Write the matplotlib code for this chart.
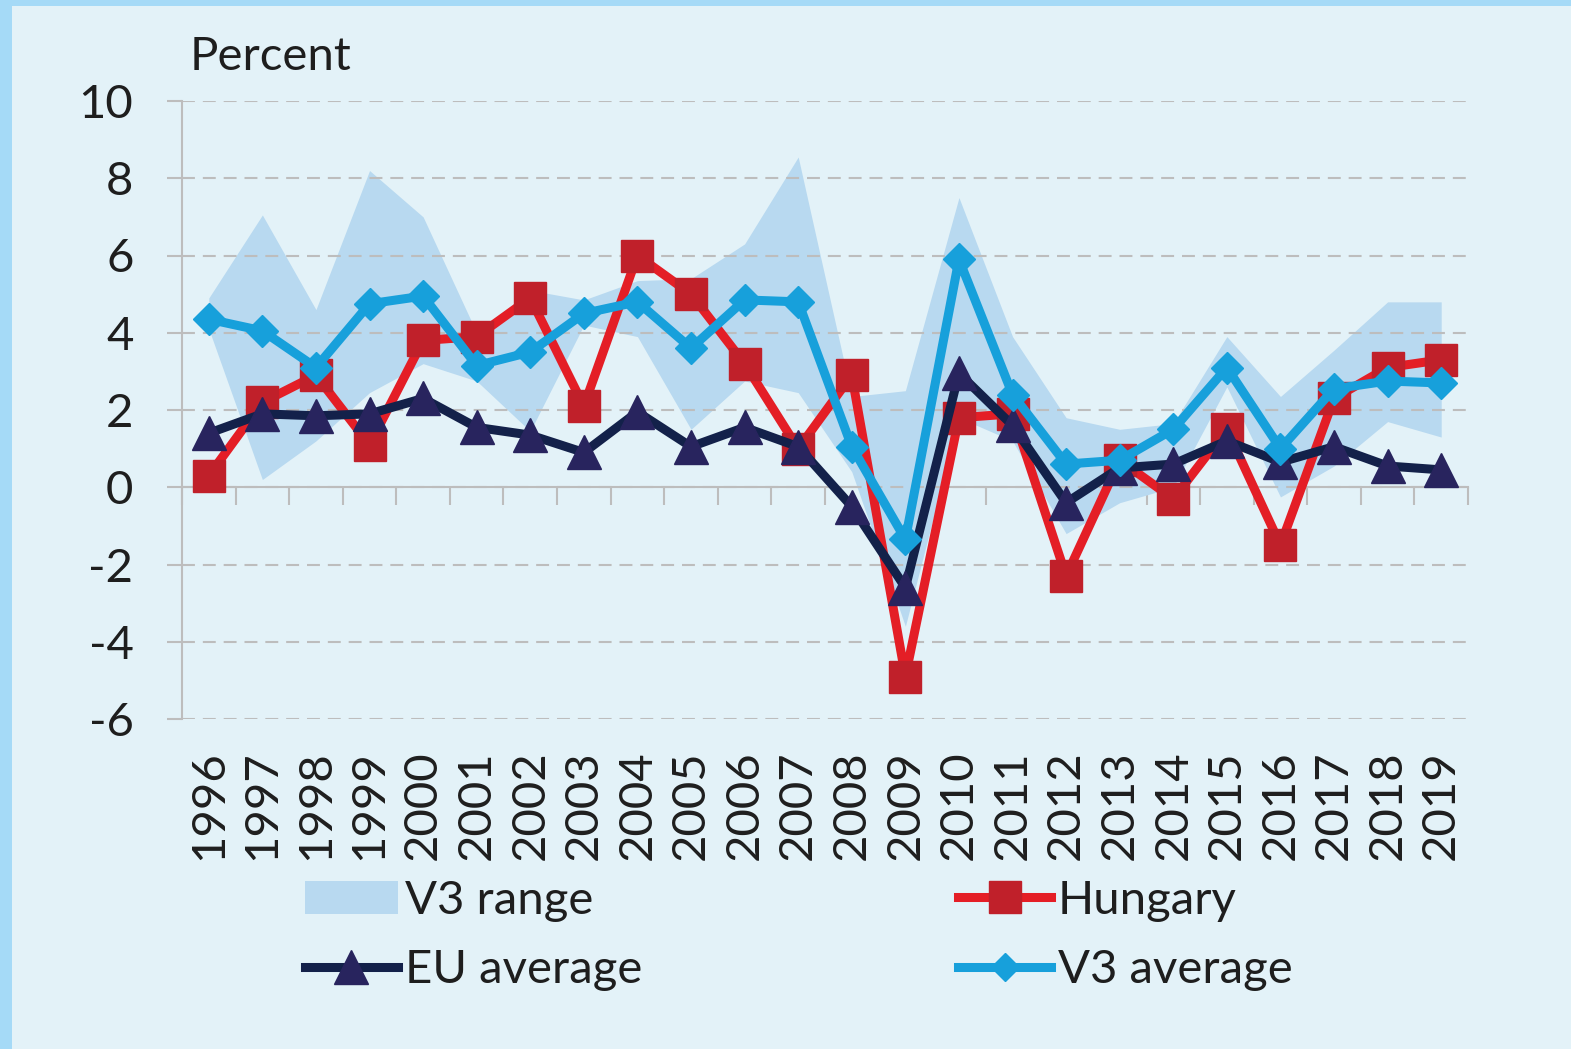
import matplotlib
matplotlib.use("Agg")
import matplotlib.pyplot as plt
from matplotlib.patches import Rectangle, Patch
from matplotlib.lines import Line2D
import numpy as np

years = [str(y) for y in range(1996, 2020)]
hungary = [0.3, 2.2, 2.9, 1.1, 3.8, 3.9, 4.9, 2.1, 6.0, 5.0, 3.2, 1.0,
           2.9, -4.9, 1.8, 1.9, -2.3, 0.7, -0.3, 1.5, -1.5, 2.3, 3.1, 3.3]
eu_avg = [1.4, 1.9, 1.85, 1.9, 2.3, 1.55, 1.35, 0.9, 1.95, 1.05, 1.55, 1.05,
          -0.5, -2.6, 2.95, 1.6, -0.4, 0.5, 0.6, 1.2, 0.65, 1.05, 0.55, 0.45]
v3_avg = [4.35, 4.05, 3.1, 4.75, 4.95, 3.15, 3.5, 4.5, 4.8, 3.6, 4.85, 4.8,
          1.05, -1.35, 5.9, 2.4, 0.6, 0.7, 1.5, 3.1, 1.0, 2.55, 2.75, 2.7]
v3_high = [4.9, 7.05, 4.6, 8.2, 7.0, 4.0, 5.1, 4.85, 5.35, 5.4, 6.3, 8.55,
           2.35, 2.5, 7.5, 3.9, 1.8, 1.5, 1.65, 3.9, 2.35, 3.55, 4.8, 4.8]
v3_low = [4.1, 0.2, 1.2, 2.45, 3.2, 2.75, 1.45, 4.2, 3.9, 1.5, 2.75, 2.45,
          0.4, -3.6, 1.8, 1.2, -1.2, -0.4, 0.0, 2.6, -0.25, 0.55, 1.7, 1.3]
yticks = [10, 8, 6, 4, 2, 0, -2, -4, -6]

BG = "#E3F2F8"
BORDER = "#A5DAF7"
RANGE_C = "#B8D9F0"
RED_L = "#E41E26"
RED_M = "#C0202A"
NAVY_L = "#13214A"
NAVY_M = "#28245E"
BLUE = "#17A0DB"
GRID = "#BDBDBD"
TXT = "#1E1E1E"
FONT = ["Lato", "DejaVu Sans"]
FS = 34

plt.rcParams["font.family"] = FONT

W, H = 1571, 1049
fig = plt.figure(figsize=(W / 100, H / 100), dpi=100, facecolor=BG)
fig.add_artist(Rectangle((0, 0), 12 / W, 1, transform=fig.transFigure,
                         facecolor=BORDER, edgecolor="none", zorder=0))
fig.add_artist(Rectangle((0, 1 - 6 / H), 1, 6 / H, transform=fig.transFigure,
                         facecolor=BORDER, edgecolor="none", zorder=0))

ax = fig.add_axes([182 / W, 1 - 719 / H, (1468 - 182) / W, (719 - 101) / H])
ax.set_facecolor("none")
x = np.arange(len(years))

ax.fill_between(x, v3_low, v3_high, color=RANGE_C, lw=0, zorder=1)
ax.plot(x, hungary, color=RED_L, lw=6.5, marker="s", ms=23,
        mfc=RED_M, mec=RED_M, zorder=3)
ax.plot(x, eu_avg, color=NAVY_L, lw=6.5, marker="^", ms=24,
        mfc=NAVY_M, mec=NAVY_M, zorder=4)
ax.plot(x, v3_avg, color=BLUE, lw=6.5, marker="D", ms=16,
        mfc=BLUE, mec=BLUE, zorder=5)

ax.set_xlim(-0.5, len(years) - 0.5)
ax.set_ylim(-6, 10)
ax.set_yticks(yticks)
ax.set_yticklabels([str(t) for t in yticks])
ax.yaxis.grid(True, color=GRID, lw=1.5, linestyle=(0, (6.2, 3.8)), zorder=0)
ax.tick_params(axis="y", length=11, width=1.5, color=GRID, pad=24,
               labelsize=FS, labelcolor=TXT)

ax.set_xticks(x)
ax.set_xticklabels(years, rotation=90)
ax.tick_params(axis="x", length=0, pad=22.5, labelsize=FS, labelcolor=TXT)

for s in ["top", "right", "bottom"]:
    ax.spines[s].set_visible(False)
ax.spines["left"].set_color(GRID)
ax.spines["left"].set_linewidth(1.5)

sec = ax.secondary_xaxis(0, transform=ax.transData)
sec.set_xticks(np.arange(len(years) + 1) - 0.5)
sec.set_xticklabels([])
sec.tick_params(axis="x", length=13, width=1.5, color=GRID, direction="out")
sec.spines["bottom"].set_color(GRID)
sec.spines["bottom"].set_linewidth(1.5)

fig.text(190 / W, 1 - 57 / H, "Percent", fontsize=FS, color=TXT,
         va="center", ha="left")

handles = [
    Patch(facecolor=RANGE_C, edgecolor="none"),
    Line2D([], [], color=NAVY_L, lw=6.5, marker="^", ms=24, mfc=NAVY_M, mec=NAVY_M),
    Line2D([], [], color=RED_L, lw=6.5, marker="s", ms=23, mfc=RED_M, mec=RED_M),
    Line2D([], [], color=BLUE, lw=6.5, marker="D", ms=14, mfc=BLUE, mec=BLUE),
]
labels = ["V3 range", "EU average", "Hungary", "V3 average"]
fig.legend(handles, labels, ncol=2, loc="upper left",
           bbox_to_anchor=(305 / W, 1 - 880 / H), frameon=False,
           fontsize=FS, handlelength=1.96, handletextpad=0.15,
           columnspacing=6.7, labelspacing=0.58, borderpad=0,
           borderaxespad=0, labelcolor=TXT)

fig.savefig("out.png", dpi=100, facecolor=BG)
